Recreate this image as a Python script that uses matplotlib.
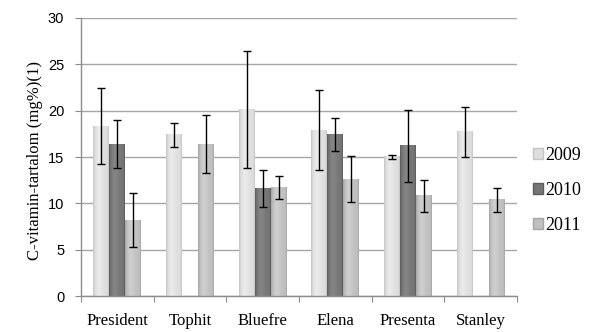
import numpy as np
import matplotlib
matplotlib.use("Agg")
import matplotlib.pyplot as plt
from matplotlib.colors import LinearSegmentedColormap
from matplotlib.patches import Rectangle

CATEGORIES = ["President", "Tophit", "Bluefre", "Elena", "Presenta", "Stanley"]
YEARS = ["2009", "2010", "2011"]
# NaN = no bar for that year
VALUES_2009 = [18.3, 17.4, 20.1, 17.9, 15.0, 17.7]
VALUES_2010 = [16.4, np.nan, 11.6, 17.4, 16.2, np.nan]
VALUES_2011 = [8.2, 16.4, 11.7, 12.6, 10.8, 10.4]
ERR_2009 = [4.1, 1.3, 6.3, 4.3, 0.2, 2.7]
ERR_2010 = [2.6, np.nan, 2.0, 1.8, 3.9, np.nan]
ERR_2011 = [2.9, 3.1, 1.2, 2.5, 1.7, 1.3]

SERIES = [VALUES_2009, VALUES_2010, VALUES_2011]
ERRORS = [ERR_2009, ERR_2010, ERR_2011]
# (edge, body, highlight) shades for each year
SHADES = [("#c4c4c4", "#dedede", "#ececec"),
          ("#5c5c5c", "#767676", "#868686"),
          ("#a4a4a4", "#c0c0c0", "#d0d0d0")]

fig = plt.figure(figsize=(5.89, 3.32), dpi=100)
ax = fig.add_axes([0.1375, 0.1084, 0.7405, 0.8374])

x = np.arange(len(CATEGORIES))
width = 0.22

for i, (vals, errs, shades) in enumerate(zip(SERIES, ERRORS, SHADES)):
    edge, body, hi = shades
    cmap = LinearSegmentedColormap.from_list(
        f"c{i}", [(0, edge), (0.12, body), (0.35, hi), (0.75, body), (0.9, body), (1, edge)])
    grad = np.linspace(0, 1, 64).reshape(1, -1)
    offset = (i - 1) * width
    for xi, v, e in zip(x, vals, errs):
        if np.isnan(v):
            continue
        x0 = xi + offset - width / 2
        ax.imshow(grad, cmap=cmap, extent=[x0, x0 + width, 0, v],
                  aspect="auto", zorder=2, interpolation="bilinear")
        ax.errorbar(xi + offset, v, yerr=e, fmt="none", ecolor="black",
                    elinewidth=1.0, capsize=3, capthick=1.0, zorder=4)
    # legend proxy
    ax.add_patch(Rectangle((0, 0), 0, 0, facecolor=body, edgecolor=edge,
                           label=YEARS[i]))

ax.set_xlim(-0.5, len(CATEGORIES) - 0.5)
ax.set_ylim(0, 30)
ax.set_yticks(range(0, 31, 5))
ax.yaxis.grid(True, color="#a6a6a6", linewidth=1.0, zorder=0)
ax.set_axisbelow(True)

ax.set_xticks(np.arange(len(CATEGORIES) + 1) - 0.5)
ax.set_xticklabels([])
ax.set_xticks(x, minor=True)
ax.set_xticklabels(CATEGORIES, minor=True, family="Liberation Serif", fontsize=12)
ax.tick_params(axis="x", which="minor", length=0, pad=12)
ax.tick_params(axis="x", which="major", length=4, color="#8c8c8c", direction="out")
ax.tick_params(axis="y", length=4, color="#8c8c8c", pad=8)
for lab in ax.get_yticklabels():
    lab.set_family("Liberation Sans")
    lab.set_fontsize(10.5)

for s in ["top", "right"]:
    ax.spines[s].set_visible(False)
for s in ["left", "bottom"]:
    ax.spines[s].set_color("#8c8c8c")
    ax.spines[s].set_linewidth(1.0)

ax.set_ylabel("C-vitamin-tartalom (mg%)(1)", family="Liberation Serif", fontsize=12)
ax.yaxis.set_label_coords(-0.088, 0.486)

leg = ax.legend(loc="center left", bbox_to_anchor=(1.0, 0.38), frameon=False,
                prop={"family": "Liberation Serif", "size": 13},
                handlelength=0.55, handleheight=0.55, handletextpad=0.1,
                labelspacing=1.0, borderaxespad=0.5)

fig.savefig("out.png", dpi=100)
